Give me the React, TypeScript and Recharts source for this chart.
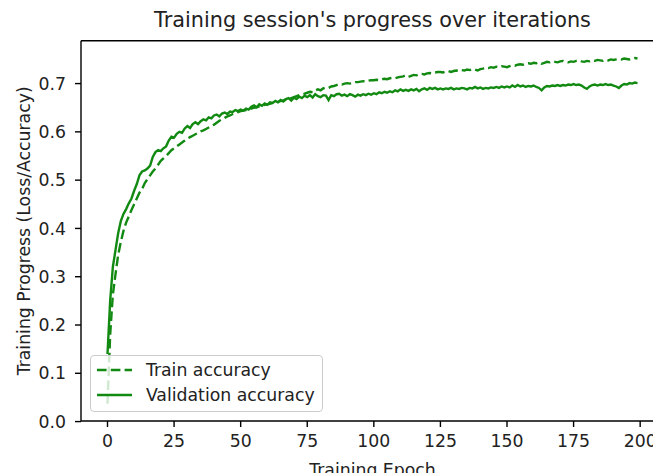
import React from 'react';
import { LineChart, Line, XAxis, YAxis, Legend, ReferenceLine } from 'recharts';

// accuracy per epoch
const TRAIN_ACC = [
  0.037, 0.180, 0.262, 0.305, 0.345, 0.372, 0.395, 0.412, 0.425, 0.438,
  0.450, 0.462, 0.474, 0.482, 0.494, 0.502, 0.510, 0.518, 0.524, 0.532,
  0.540, 0.545, 0.550, 0.556, 0.562, 0.566, 0.570, 0.574, 0.578, 0.582,
  0.586, 0.589, 0.592, 0.595, 0.598, 0.601, 0.603, 0.606, 0.609, 0.612,
  0.615, 0.619, 0.623, 0.626, 0.629, 0.632, 0.634, 0.637, 0.639, 0.641,
  0.643, 0.644, 0.645, 0.647, 0.648, 0.650, 0.651, 0.653, 0.654, 0.656,
  0.657, 0.658, 0.660, 0.661, 0.662, 0.664, 0.665, 0.667, 0.668, 0.670,
  0.672, 0.674, 0.676, 0.678, 0.679, 0.681, 0.683, 0.682, 0.686, 0.688,
  0.686, 0.690, 0.692, 0.691, 0.694, 0.695, 0.697, 0.699, 0.698, 0.700,
  0.701, 0.700, 0.702, 0.703, 0.703, 0.704, 0.705, 0.704, 0.706, 0.707,
  0.707, 0.708, 0.707, 0.709, 0.710, 0.709, 0.711, 0.712, 0.711, 0.713,
  0.714, 0.715, 0.717, 0.714, 0.716, 0.718, 0.717, 0.719, 0.720, 0.719,
  0.721, 0.722, 0.721, 0.723, 0.724, 0.724, 0.723, 0.725, 0.726, 0.724,
  0.726, 0.727, 0.726, 0.728, 0.727, 0.729, 0.728, 0.730, 0.729, 0.727,
  0.730, 0.731, 0.733, 0.732, 0.734, 0.733, 0.735, 0.734, 0.736, 0.735,
  0.734, 0.736, 0.738, 0.737, 0.739, 0.740, 0.739, 0.741, 0.742, 0.741,
  0.743, 0.742, 0.744, 0.741, 0.743, 0.745, 0.744, 0.746, 0.745, 0.744,
  0.746, 0.747, 0.745, 0.744, 0.746, 0.745, 0.747, 0.748, 0.746, 0.745,
  0.747, 0.746, 0.748, 0.747, 0.749, 0.748, 0.747, 0.749, 0.748, 0.750,
  0.749, 0.750, 0.751, 0.750, 0.752, 0.751, 0.750, 0.752, 0.753, 0.752,
];

const VAL_ACC = [
  0.140, 0.250, 0.320, 0.355, 0.390, 0.415, 0.430, 0.440, 0.452, 0.462,
  0.478, 0.492, 0.510, 0.518, 0.520, 0.524, 0.530, 0.548, 0.558, 0.562,
  0.560, 0.566, 0.570, 0.582, 0.590, 0.588, 0.596, 0.600, 0.598, 0.607,
  0.612, 0.608, 0.616, 0.620, 0.616, 0.622, 0.626, 0.624, 0.630, 0.628,
  0.634, 0.636, 0.632, 0.638, 0.640, 0.637, 0.642, 0.641, 0.645, 0.643,
  0.646, 0.644, 0.648, 0.646, 0.652, 0.655, 0.651, 0.657, 0.654, 0.659,
  0.656, 0.661, 0.660, 0.664, 0.661, 0.666, 0.663, 0.668, 0.670, 0.665,
  0.671, 0.668, 0.673, 0.670, 0.675, 0.672, 0.676, 0.671, 0.678, 0.674,
  0.672, 0.676, 0.675, 0.666, 0.676, 0.674, 0.678, 0.679, 0.675, 0.677,
  0.674, 0.678, 0.676, 0.673, 0.677, 0.675, 0.678, 0.676, 0.679, 0.677,
  0.680, 0.678, 0.682, 0.680, 0.683, 0.681, 0.684, 0.682, 0.686, 0.684,
  0.688, 0.685, 0.687, 0.685, 0.688, 0.686, 0.689, 0.684, 0.688, 0.690,
  0.687, 0.691, 0.689, 0.691, 0.688, 0.690, 0.688, 0.690, 0.689, 0.691,
  0.688, 0.690, 0.689, 0.691, 0.690, 0.688, 0.691, 0.690, 0.693, 0.690,
  0.692, 0.689, 0.691, 0.690, 0.692, 0.691, 0.693, 0.691, 0.694, 0.692,
  0.694, 0.692, 0.696, 0.693, 0.697, 0.694, 0.696, 0.693, 0.695, 0.694,
  0.696, 0.693, 0.691, 0.686, 0.692, 0.695, 0.694, 0.696, 0.695, 0.697,
  0.695, 0.697, 0.696, 0.698, 0.697, 0.699, 0.697, 0.698, 0.696, 0.692,
  0.689, 0.694, 0.697, 0.698, 0.696, 0.698, 0.697, 0.699, 0.697, 0.698,
  0.696, 0.694, 0.691, 0.696, 0.699, 0.698, 0.701, 0.700, 0.702, 0.701,
];

const EPOCHS = TRAIN_ACC.map((_, i) => i);
const X_TICKS = [0, 25, 50, 75, 100, 125, 150, 175, 200];
const Y_TICKS = [0, 0.1, 0.2, 0.3, 0.4, 0.5, 0.6, 0.7];
const X_DOMAIN = [-9.95, 208.95];
const Y_DOMAIN = [0.0012, 0.7888];

const data = EPOCHS.map((epoch, i) => ({
  epoch,
  train: TRAIN_ACC[i],
  val: VAL_ACC[i],
}));

const FONT = '"DejaVu Sans", sans-serif';
const GREEN = '#128a12';
const DASH = '9.6 4.2';
const TEXT = '#222';

const series = [
  { key: 'train', name: 'Train accuracy', dash: DASH },
  { key: 'val', name: 'Validation accuracy', dash: undefined },
];

function LegendBox() {
  return (
    <div
      style={{
        boxSizing: 'border-box',
        width: 233,
        height: 57,
        border: '1.5px solid #cccccc',
        borderRadius: 4,
        background: 'rgba(255,255,255,0.8)',
        padding: '1px 0 0 6px',
        fontFamily: FONT,
        fontSize: 17.3,
        color: TEXT,
      }}
    >
      {series.map((s) => (
        <div key={s.key} style={{ display: 'flex', alignItems: 'center', height: 25 }}>
          <svg width={35} height={4} style={{ marginRight: 13.9 }}>
            <line x1={0} x2={35} y1={2} y2={2} stroke={GREEN} strokeWidth={2.6} strokeDasharray={s.dash} />
          </svg>
          <span>{s.name}</span>
        </div>
      ))}
    </div>
  );
}

export default function App() {
  const tickStyle = { fill: TEXT, fontSize: 17.3, fontFamily: FONT };
  return (
    <div style={{ position: 'fixed', left: 0, top: 0, width: 653, height: 473, overflow: 'hidden', background: '#fff' }}>
      <div
        style={{
          position: 'absolute',
          left: 0,
          top: 7.7,
          width: 745,
          textAlign: 'center',
          fontFamily: FONT,
          fontSize: 20.8,
          color: TEXT,
          whiteSpace: 'nowrap',
        }}
      >
        Training session's progress over iterations
      </div>
      <LineChart width={700} height={473} data={data} margin={{ top: 40.7, right: 36, left: 0, bottom: 0 }}>
        <XAxis
          dataKey="epoch"
          type="number"
          domain={X_DOMAIN}
          ticks={X_TICKS}
          allowDataOverflow
          height={52}
          tick={tickStyle}
          tickSize={6}
          tickMargin={8}
          axisLine={{ stroke: '#000', strokeWidth: 1.4 }}
          tickLine={{ stroke: '#000', strokeWidth: 1.4 }}
          label={{ value: 'Training Epoch', position: 'insideBottom', offset: -3, style: { fill: TEXT, fontSize: 17.3, fontFamily: FONT } }}
        />
        <YAxis
          type="number"
          domain={Y_DOMAIN}
          ticks={Y_TICKS}
          allowDataOverflow
          width={81}
          tick={tickStyle}
          tickSize={6}
          tickMargin={9}
          tickFormatter={(v: number) => v.toFixed(1)}
          axisLine={{ stroke: '#000', strokeWidth: 1.4 }}
          tickLine={{ stroke: '#000', strokeWidth: 1.4 }}
          label={{
            value: 'Training Progress (Loss/Accuracy)',
            angle: -90,
            position: 'insideLeft',
            offset: 23.5,
            style: { textAnchor: 'middle', fill: TEXT, fontSize: 17.3, fontFamily: FONT },
          }}
        />
        <ReferenceLine y={Y_DOMAIN[1]} stroke="#000" strokeWidth={1.4} />
        <ReferenceLine x={X_DOMAIN[1]} stroke="#000" strokeWidth={1.4} />
        {series.map((s) => (
          <Line
            key={s.key}
            type="linear"
            dataKey={s.key}
            name={s.name}
            stroke={GREEN}
            strokeWidth={2.4}
            strokeDasharray={s.dash}
            dot={false}
            activeDot={false}
            isAnimationActive={false}
          />
        ))}
        <Legend
          layout="vertical"
          align="center"
          verticalAlign="middle"
          wrapperStyle={{ left: 90, top: 355, width: 233, height: 57 }}
          content={() => <LegendBox />}
        />
      </LineChart>
    </div>
  );
}
